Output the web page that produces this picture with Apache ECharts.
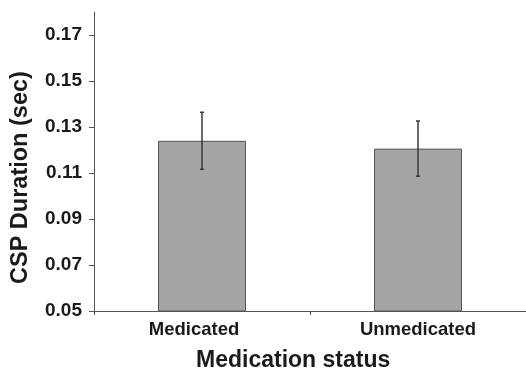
<!DOCTYPE html>
<html>
<head>
<meta charset="utf-8">
<script src="https://cdn.jsdelivr.net/npm/echarts@6/dist/echarts.min.js"></script>
<style>
html,body{margin:0;padding:0;background:#fff;}
#chart{width:526px;height:372px;}
</style>
</head>
<body>
<div id="chart"></div>
<script>
const categories = ['Medicated', 'Unmedicated'];
const means = [0.124, 0.1206];
const errors = [0.0124, 0.012];
const yTicks = [0.05, 0.07, 0.09, 0.11, 0.13, 0.15, 0.17];

const chart = echarts.init(document.getElementById('chart'));
const axisColor = '#555';
const font = '"Liberation Sans", Arial, sans-serif';

chart.setOption({
  animation: false,
  backgroundColor: '#fff',
  grid: { left: 94, top: 12, width: 434, bottom: 61, containLabel: false },
  xAxis: {
    type: 'category',
    data: categories,
    axisLine: { lineStyle: { color: axisColor, width: 1 } },
    axisTick: { show: true, alignWithLabel: false, length: 4, lineStyle: { color: axisColor } },
    axisLabel: {
      margin: 9,
      color: '#1a1a1a',
      fontFamily: font,
      fontWeight: 'bold',
      fontSize: 18.5,
      formatter: function (v, i) { return i === 0 ? '{a|' + v + '}' : '{b|' + v + '}'; },
      rich: {
        a: { fontFamily: font, fontWeight: 'bold', fontSize: 18.5, color: '#1a1a1a', padding: [0, 16, 0, 0] },
        b: { fontFamily: font, fontWeight: 'bold', fontSize: 18.5, color: '#1a1a1a' }
      }
    },
    splitLine: { show: false }
  },
  yAxis: {
    type: 'value',
    min: 0.05,
    max: 0.18,
    interval: 0.01,
    axisLine: { show: true, lineStyle: { color: axisColor, width: 1 } },
    axisTick: { show: true, length: 5, customValues: yTicks, lineStyle: { color: axisColor } },
    axisLabel: {
      customValues: yTicks,
      margin: 12,
      color: '#1a1a1a',
      fontFamily: font,
      fontWeight: 'bold',
      fontSize: 19,
      formatter: function (v) { return v.toFixed(2); }
    },
    splitLine: { show: false }
  },
  graphic: [
    {
      type: 'text',
      left: 196, top: 349,
      style: { text: 'Medication status', fontFamily: font, fontWeight: 'bold', fontSize: 23, fill: '#1a1a1a' }
    },
    {
      type: 'text',
      x: 9, y: 284,
      rotation: Math.PI / 2,
      style: { text: 'CSP Duration (sec)', fontFamily: font, fontWeight: 'bold', fontSize: 23.5, fill: '#1a1a1a', textAlign: 'left', textVerticalAlign: 'top' }
    }
  ],
  series: [
    {
      type: 'bar',
      data: means,
      barWidth: 88,
      itemStyle: { color: '#a5a5a5', borderColor: '#555', borderWidth: 1 }
    },
    {
      type: 'custom',
      data: means.map((m, i) => [i, m - errors[i], m + errors[i]]),
      renderItem: function (params, api) {
        const x = api.value(0);
        const lo = api.coord([x, api.value(1)]);
        const hi = api.coord([x, api.value(2)]);
        const cap = 2;
        const st = { stroke: '#3a3a3a', lineWidth: 1.5 };
        return {
          type: 'group',
          children: [
            { type: 'line', shape: { x1: hi[0], y1: hi[1], x2: lo[0], y2: lo[1] }, style: st },
            { type: 'line', shape: { x1: hi[0] - cap, y1: hi[1], x2: hi[0] + cap, y2: hi[1] }, style: st },
            { type: 'line', shape: { x1: lo[0] - cap, y1: lo[1], x2: lo[0] + cap, y2: lo[1] }, style: st }
          ]
        };
      },
      z: 10
    }
  ]
});
</script>
</body>
</html>
